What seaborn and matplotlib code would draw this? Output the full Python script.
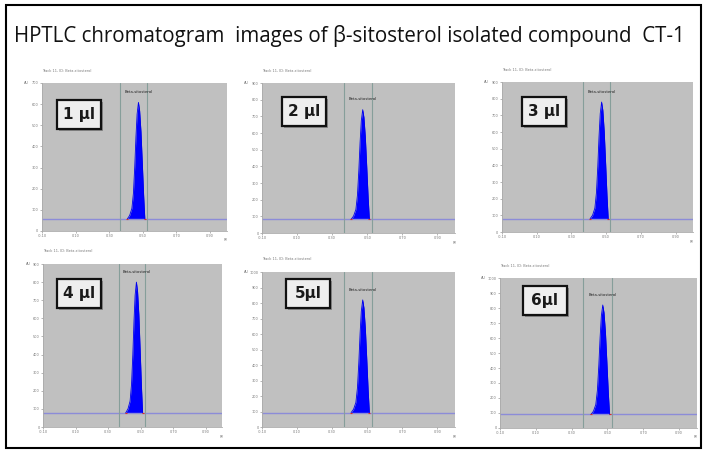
import matplotlib
matplotlib.use("Agg")
import matplotlib.pyplot as plt
import seaborn as sns
import pandas as pd
from matplotlib.patches import Rectangle, FancyBboxPatch

# peak profile Rf positions (shared by all tracks)
peak_rf = [0.408, 0.422, 0.435, 0.444, 0.452, 0.459, 0.466, 0.474, 0.481, 0.489, 0.497, 0.505, 0.512]

# AU values
au_1ul = [57, 74, 107, 178, 305, 443, 553, 608, 569, 470, 321, 167, 57]
au_2ul = [82, 102, 141, 227, 378, 543, 674, 740, 694, 576, 398, 214, 82]
au_3ul = [80, 101, 143, 234, 395, 570, 710, 780, 731, 605, 416, 220, 80]
au_4ul = [78, 100, 143, 237, 403, 583, 728, 800, 749, 620, 425, 222, 78]
au_5ul = [93, 115, 158, 253, 420, 602, 747, 820, 769, 638, 442, 238, 93]
au_6ul = [90, 112, 156, 251, 419, 601, 747, 820, 769, 638, 440, 236, 90]

volumes = ["1 µl", "2 µl", "3 µl", "4 µl", "5µl", "6µl"]
baselines = [57, 82, 80, 78, 93, 90]
y_max = [700, 900, 900, 900, 1000, 1000]
window_rf = [0.365, 0.525]
x_ticks = [-0.10, 0.10, 0.30, 0.50, 0.70, 0.90]

tracks = [au_1ul, au_2ul, au_3ul, au_4ul, au_5ul, au_6ul]

# axes rectangles in figure fraction (left, bottom, width, height)
rects = [
    (0.0597, 0.4867, 0.263, 0.329),
    (0.3727, 0.4822, 0.2745, 0.3333),
    (0.714, 0.4844, 0.2717, 0.3333),
    (0.0612, 0.0511, 0.2546, 0.3622),
    (0.3727, 0.0511, 0.2745, 0.3444),
    (0.7112, 0.0489, 0.2802, 0.3333),
]
# label box (x0, y0 top) in pixels
boxes = [(57, 100), (282, 97), (522, 97), (57, 279), (286, 279), (523, 286)]

sns.set_style("white")
plt.rcParams['font.family'] = ['DejaVu Sans']

fig = plt.figure(figsize=(7.03, 4.5), dpi=100)
W, H = 703, 450

# outer frame
fig.patches.append(Rectangle((6 / W, 2 / H), 695 / W, 443 / H, transform=fig.transFigure,
                             fill=False, edgecolor="black", linewidth=1.5))

fig.text(14 / W, 1 - 36 / H, "HPTLC chromatogram  images of β-sitosterol isolated compound  CT-1",
         fontsize=14.8, family="Open Sans", va="center", ha="left", color="#111111")

for i, (au, rect) in enumerate(zip(tracks, rects)):
    ax = fig.add_axes(rect)
    ax.set_facecolor("#c0c0c0")
    df = pd.DataFrame({"Rf": peak_rf, "AU": au})
    ax.fill_between(df["Rf"], baselines[i], df["AU"], color="#0000ff", linewidth=0)
    sns.lineplot(data=df, x="Rf", y="AU", ax=ax, color="#0000ee", linewidth=0.6)
    ax.axhline(baselines[i], color="#8c8cd8", linewidth=1.0, zorder=1)
    for w in window_rf:
        ax.axvline(w, color="#869e9a", linewidth=0.8, zorder=1)
    ax.scatter([peak_rf[0], peak_rf[-1]], [baselines[i], baselines[i]], s=3,
               color="#e03020", marker="_", zorder=4, linewidths=0.8)
    ax.annotate("Beta-sitosterol", (peak_rf[7], max(au)), xytext=(0, 6),
                textcoords="offset points", ha="center", va="bottom", fontsize=2.8, color="#222222")
    ax.set_xlim(-0.10, 1.00)
    ax.set_ylim(0, y_max[i])
    ax.set_xticks(x_ticks)
    ax.set_xticklabels([f"{t:.2f}" for t in x_ticks])
    ax.set_yticks(range(0, y_max[i] + 1, 100))
    ax.set_yticklabels([str(v) for v in range(0, y_max[i] + 1, 100)])
    ax.tick_params(axis="both", labelsize=2.5, labelcolor="#777777", color="#999999",
                   length=1.5, width=0.5, pad=1, bottom=True, left=True)
    ax.set_xlabel("")
    ax.set_ylabel("")
    for side in ["top", "right"]:
        ax.spines[side].set_visible(False)
    for side in ["left", "bottom"]:
        ax.spines[side].set_color("#aaaaaa")
        ax.spines[side].set_linewidth(0.6)
    ax.text(0.0, 1.07, "Track 11, ID: Beta-sitosterol", transform=ax.transAxes,
            fontsize=2.5, color="#777777", ha="left", va="bottom")
    ax.text(-0.07, 1.0, "AU", transform=ax.transAxes, fontsize=2.5, color="#777777",
            ha="right", va="center")
    ax.text(0.995, -0.05, "Rf", transform=ax.transAxes, fontsize=2.5, color="#777777",
            ha="center", va="top")

    # volume label box
    bx, by = boxes[i]
    bw, bh = 44, 29
    shadow = FancyBboxPatch(((bx + 2) / W, 1 - (by + bh + 2) / H), bw / W, bh / H,
                            boxstyle="square,pad=0", transform=fig.transFigure,
                            facecolor="#666666", edgecolor="none", alpha=0.6, zorder=5)
    box = FancyBboxPatch((bx / W, 1 - (by + bh) / H), bw / W, bh / H,
                         boxstyle="square,pad=0", transform=fig.transFigure,
                         facecolor="#eeeeee", edgecolor="#111111", linewidth=1.6, zorder=6)
    fig.patches.append(shadow)
    fig.patches.append(box)
    fig.text((bx + bw / 2) / W, 1 - (by + bh / 2) / H, volumes[i], fontsize=11,
             fontweight="bold", ha="center", va="center", color="#1a1a1a", zorder=7)

fig.savefig("out.png", dpi=100)
